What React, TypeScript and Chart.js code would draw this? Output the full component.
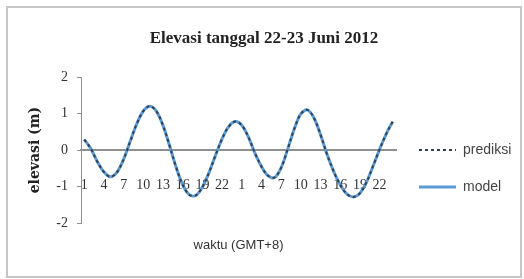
import React, { useEffect, useRef } from 'react';
import { Chart, registerables } from 'chart.js';

Chart.register(...registerables);

// hour of day (GMT+8), 22 June 01:00 -> 23 June 24:00
const hours = [
  1, 2, 3, 4, 5, 6, 7, 8, 9, 10, 11, 12, 13, 14, 15, 16, 17, 18, 19, 20, 21, 22, 23, 24,
  1, 2, 3, 4, 5, 6, 7, 8, 9, 10, 11, 12, 13, 14, 15, 16, 17, 18, 19, 20, 21, 22, 23, 24,
];

// elevation (m)
const prediksi = [
  0.29, 0.04, -0.32, -0.6, -0.73, -0.6, -0.25, 0.24, 0.72, 1.07, 1.2, 1.06,
  0.67, 0.12, -0.47, -0.95, -1.22, -1.24, -1.01, -0.62, -0.14, 0.31, 0.64, 0.78,
  0.68, 0.36, -0.08, -0.45, -0.7, -0.75, -0.48, 0.03, 0.58, 0.99, 1.1, 0.88,
  0.42, -0.12, -0.58, -0.95, -1.2, -1.28, -1.18, -0.88, -0.44, 0.02, 0.44, 0.78,
];

const model = [
  0.29, 0.04, -0.32, -0.6, -0.73, -0.6, -0.25, 0.24, 0.72, 1.07, 1.2, 1.06,
  0.67, 0.12, -0.47, -0.95, -1.22, -1.24, -1.01, -0.62, -0.14, 0.31, 0.64, 0.78,
  0.68, 0.36, -0.08, -0.45, -0.7, -0.75, -0.48, 0.03, 0.58, 0.99, 1.1, 0.88,
  0.42, -0.12, -0.58, -0.95, -1.2, -1.28, -1.18, -0.88, -0.44, 0.02, 0.44, 0.78,
];

const yMin = -2;
const yMax = 2;
const yStep = 1;
const labelEvery = 3;

export default function App() {
  const ref = useRef<HTMLCanvasElement>(null);

  useEffect(() => {
    if (!ref.current) return;
    const chart = new Chart(ref.current, {
      type: 'line',
      data: {
        labels: hours.map(String),
        datasets: [
          {
            label: 'prediksi',
            data: prediksi,
            borderColor: '#34404f',
            borderWidth: 2,
            borderDash: [3, 3],
            pointRadius: 0,
            tension: 0.35,
            fill: false,
          },
          {
            label: 'model',
            data: model,
            borderColor: '#5b9bd5',
            borderWidth: 3,
            pointRadius: 0,
            tension: 0.35,
            fill: false,
          },
        ],
      },
      options: {
        animation: false,
        responsive: true,
        maintainAspectRatio: false,
        layout: { padding: 0 },
        plugins: {
          title: {
            display: true,
            text: 'Elevasi tanggal 22-23 Juni 2012',
            color: '#222',
            font: { family: 'Liberation Serif', size: 17, weight: 'bold' },
            padding: { top: 20, bottom: 28.6 },
          },
          subtitle: {
            display: true,
            position: 'bottom',
            fullSize: false,
            text: 'waktu (GMT+8)',
            color: '#333',
            font: { family: 'Liberation Sans', size: 13 },
            padding: { top: 14.2, bottom: 23 },
          },
          legend: {
            display: true,
            position: 'right',
            align: 'center',
            maxWidth: 124,
            title: {
              display: true,
              text: '',
              font: { size: 12 },
              padding: { top: 0, bottom: 38.6 },
            },
            labels: {
              usePointStyle: true,
              pointStyle: 'line',
              pointStyleWidth: 37,
              padding: 23,
              color: '#444',
              font: { family: 'Liberation Sans', size: 14 },
              generateLabels: (c: any) => {
                const items = Chart.defaults.plugins.legend.labels.generateLabels(c);
                items.forEach((it: any) => {
                  const ds: any = c.data.datasets[it.datasetIndex];
                  it.lineDash = ds.borderDash || [];
                  it.pointStyle = 'line';
                });
                return items;
              },
            },
          },
          tooltip: { enabled: false },
        },
        scales: {
          x: {
            type: 'category',
            position: { y: 0 } as any,
            offset: true,
            afterFit: (s: any) => {
              s.height = 0;
            },
            grid: { display: true, drawOnChartArea: false, drawTicks: false },
            border: { display: true, color: '#8f8f8f', width: 2 },
            ticks: {
              autoSkip: false,
              maxRotation: 0,
              minRotation: 0,
              padding: 27,
              color: '#333',
              font: { family: 'Liberation Serif', size: 14 },
              callback: (_v: any, i: number) => (i % labelEvery === 0 ? String(hours[i]) : ''),
            },
          },
          y: {
            position: 'left',
            min: yMin,
            max: yMax,
            afterFit: (s: any) => {
              s.width = 73;
            },
            grid: { display: true, drawOnChartArea: false, drawTicks: true, tickLength: 4, color: '#8f8f8f' },
            border: { display: true, color: '#8f8f8f', width: 1 },
            ticks: {
              stepSize: yStep,
              padding: 9,
              color: '#333',
              font: { family: 'Liberation Serif', size: 14 },
            },
            title: {
              display: true,
              text: 'elevasi (m)',
              color: '#222',
              font: { family: 'DejaVu Serif', size: 14, weight: 'bold' },
              padding: { top: 19, bottom: 0 },
            },
          },
        },
      },
    });
    return () => chart.destroy();
  }, []);

  return (
    <div
      style={{
        position: 'absolute',
        left: 6,
        top: 6,
        width: 516,
        height: 272,
        border: '2px solid #c6c6c6',
        boxSizing: 'border-box',
        background: '#fff',
      }}
    >
      <div style={{ position: 'relative', width: 512, height: 268 }}>
        <canvas ref={ref} />
      </div>
    </div>
  );
}
